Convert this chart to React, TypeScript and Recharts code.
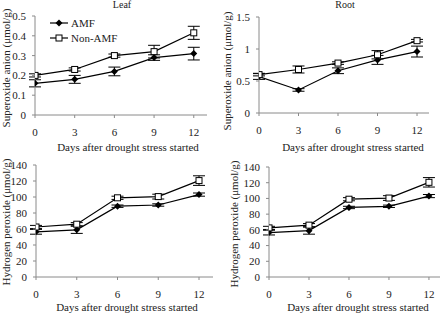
import React from 'react';
import { LineChart, Line, XAxis, YAxis, ErrorBar, Legend } from 'recharts';

const days = [0, 3, 6, 9, 12];
const dayTicks = [0, 3, 6, 9, 12];

const leafSuperoxideAMF = [0.16, 0.18, 0.22, 0.29, 0.31];
const leafSuperoxideAMFErr = [0.018, 0.02, 0.022, 0.014, 0.032];
const leafSuperoxideNon = [0.2, 0.23, 0.3, 0.32, 0.415];
const leafSuperoxideNonErr = [0.008, 0.008, 0.008, 0.032, 0.033];

const rootSuperoxideAMF = [0.57, 0.36, 0.66, 0.83, 0.96];
const rootSuperoxideAMFErr = [0.045, 0.02, 0.045, 0.07, 0.085];
const rootSuperoxideNon = [0.6, 0.68, 0.78, 0.91, 1.13];
const rootSuperoxideNonErr = [0.02, 0.055, 0.02, 0.065, 0.02];

const leafH2O2AMF = [56.5, 59, 88.5, 90, 103];
const leafH2O2AMFErr = [3, 4.5, 1.5, 1.5, 2];
const leafH2O2Non = [62.5, 66, 99, 100.5, 120.5];
const leafH2O2NonErr = [2, 2, 2, 3, 6];

const rootH2O2AMF = [56.5, 59, 88.5, 90, 103];
const rootH2O2AMFErr = [3, 4.5, 1.5, 1.5, 2];
const rootH2O2Non = [62.5, 66, 99, 100.5, 120.5];
const rootH2O2NonErr = [2, 2, 2, 3, 6];

const superoxideLeafTicks = [0, 0.1, 0.2, 0.3, 0.4, 0.5];
const superoxideRootTicks = [0, 0.5, 1, 1.5];
const h2o2Ticks = [0, 20, 40, 60, 80, 100, 120, 140];

const seriesNames = ['AMF', 'Non-AMF'];
const xTitle = 'Days after drought stress started';
const panelTitles = ['Leaf', 'Root'];

const FONT = '"Liberation Serif", "Times New Roman", serif';
const TEXT = '#222';
const AXIS = '#8a8a8a';

function build(a: number[], ae: number[], n: number[], ne: number[]) {
  return days.map((d, i) => ({ day: d, amf: a[i], amfErr: ae[i], non: n[i], nonErr: ne[i] }));
}

const Diamond = (props: any) => {
  const { cx, cy } = props;
  if (cx == null || cy == null) return null;
  return (
    <polygon
      points={`${cx},${cy - 3.5} ${cx + 3.5},${cy} ${cx},${cy + 3.5} ${cx - 3.5},${cy}`}
      fill="#000"
    />
  );
};

const Square = (props: any) => {
  const { cx, cy } = props;
  if (cx == null || cy == null) return null;
  return <rect x={cx - 3} y={cy - 3} width={6} height={6} fill="#fff" stroke="#000" strokeWidth={1} />;
};

const LegendContent = () => (
  <svg width={90} height={32} style={{ display: 'block', overflow: 'visible' }}>
    <line x1={2} x2={20} y1={8} y2={8} stroke="#000" strokeWidth={1.2} />
    <polygon points="11,4.5 14.5,8 11,11.5 7.5,8" fill="#000" />
    <text x={23} y={8} dominantBaseline="central" fontFamily={FONT} fontSize={11} fill={TEXT}>
      {seriesNames[0]}
    </text>
    <line x1={2} x2={20} y1={23} y2={23} stroke="#000" strokeWidth={1.2} />
    <rect x={8} y={20} width={6} height={6} fill="#fff" stroke="#000" strokeWidth={1} />
    <text x={23} y={23} dominantBaseline="central" fontFamily={FONT} fontSize={11} fill={TEXT}>
      {seriesNames[1]}
    </text>
  </svg>
);

type PanelProps = {
  left: number;
  top: number;
  width: number;
  height: number;
  plotLeft: number;
  plotRight: number;
  plotTop: number;
  plotBottom: number;
  xMax: number;
  yMax: number;
  yTicks: number[];
  data: any[];
  yLabel: string;
  yLabelX: number;
  yLabelY: number;
  xTitleX: number;
  xTitleY: number;
  legend?: boolean;
};

function Panel(p: PanelProps) {
  const tickStyle = { fontFamily: FONT, fontSize: 11, fill: TEXT };
  return (
    <div style={{ position: 'absolute', left: p.left, top: p.top, width: p.width, height: p.height }}>
      <LineChart
        width={p.width}
        height={p.height}
        data={p.data}
        margin={{
          left: p.plotLeft - 1,
          right: p.width - p.plotRight,
          top: p.plotTop,
          bottom: p.height - p.plotBottom - 1,
        }}
        style={{ overflow: 'visible' }}
      >
        <XAxis
          dataKey="day"
          type="number"
          domain={[0, p.xMax]}
          ticks={dayTicks}
          interval={0}
          height={1}
          tick={tickStyle}
          tickSize={3}
          tickMargin={10}
          stroke={AXIS}
          tickLine={{ stroke: AXIS }}
          allowDataOverflow
          label={{
            content: () => (
              <text x={p.xTitleX} y={p.xTitleY} textAnchor="middle" dominantBaseline="central" fontFamily={FONT} fontSize={11} fill={TEXT}>
                {xTitle}
              </text>
            ),
          }}
        />
        <YAxis
          type="number"
          domain={[0, p.yMax]}
          ticks={p.yTicks}
          interval={0}
          width={1}
          tick={tickStyle}
          tickSize={3}
          tickMargin={6}
          stroke={AXIS}
          tickLine={{ stroke: AXIS }}
          label={{
            content: () => (
              <text
                x={p.yLabelX}
                y={p.yLabelY}
                transform={`rotate(-90 ${p.yLabelX} ${p.yLabelY})`}
                textAnchor="middle"
                dominantBaseline="central"
                fontFamily={FONT}
                fontSize={11}
                fill={TEXT}
              >
                {p.yLabel}
              </text>
            ),
          }}
        />
        {p.legend ? (
          <Legend
            layout="horizontal"
            align="center"
            verticalAlign="middle"
            content={LegendContent}
            wrapperStyle={{ position: 'absolute', left: 48, top: 15, width: 90, height: 32 }}
          />
        ) : null}
        <Line
          dataKey="amf"
          name={seriesNames[0]}
          stroke="#000"
          strokeWidth={1.2}
          dot={<Diamond />}
          isAnimationActive={false}
        >
          <ErrorBar dataKey="amfErr" width={6} stroke="#000" strokeWidth={1} direction="y" />
        </Line>
        <Line
          dataKey="non"
          name={seriesNames[1]}
          stroke="#000"
          strokeWidth={1.2}
          dot={<Square />}
          isAnimationActive={false}
        >
          <ErrorBar dataKey="nonErr" width={6} stroke="#000" strokeWidth={1} direction="y" />
        </Line>
      </LineChart>
    </div>
  );
}

export default function App() {
  return (
    <div style={{ position: 'absolute', left: 0, top: 0, width: 440, height: 313, overflow: 'hidden', background: '#fff' }}>
      <svg width={440} height={20} style={{ position: 'absolute', left: 0, top: 0 }}>
        <text x={122} y={8} textAnchor="middle" fontFamily={FONT} fontSize={10} fill={TEXT}>{panelTitles[0]}</text>
        <text x={345} y={8} textAnchor="middle" fontFamily={FONT} fontSize={10} fill={TEXT}>{panelTitles[1]}</text>
      </svg>
      <Panel
        left={0} top={0} width={220} height={160}
        plotLeft={35} plotRight={207} plotTop={16} plotBottom={115}
        xMax={13} yMax={0.5} yTicks={superoxideLeafTicks}
        data={build(leafSuperoxideAMF, leafSuperoxideAMFErr, leafSuperoxideNon, leafSuperoxideNonErr)}
        yLabel="Superoxide anion (μmol/g)" yLabelX={6} yLabelY={68}
        xTitleX={128} xTitleY={147}
        legend
      />
      <Panel
        left={220} top={0} width={220} height={160}
        plotLeft={39} plotRight={209} plotTop={17} plotBottom={113}
        xMax={12.91} yMax={1.5} yTicks={superoxideRootTicks}
        data={build(rootSuperoxideAMF, rootSuperoxideAMFErr, rootSuperoxideNon, rootSuperoxideNonErr)}
        yLabel="Superoxide anion (μmol/g)" yLabelX={7} yLabelY={71}
        xTitleX={133} xTitleY={147}
      />
      <Panel
        left={0} top={150} width={220} height={163}
        plotLeft={36} plotRight={213} plotTop={15} plotBottom={127}
        xMax={13.03} yMax={140} yTicks={h2o2Ticks}
        data={build(leafH2O2AMF, leafH2O2AMFErr, leafH2O2Non, leafH2O2NonErr)}
        yLabel="Hydrogen peroxide (μmol/g)" yLabelX={6} yLabelY={72}
        xTitleX={127} xTitleY={157}
      />
      <Panel
        left={220} top={150} width={220} height={163}
        plotLeft={49} plotRight={220} plotTop={17} plotBottom={127}
        xMax={12.83} yMax={140} yTicks={h2o2Ticks}
        data={build(rootH2O2AMF, rootH2O2AMFErr, rootH2O2Non, rootH2O2NonErr)}
        yLabel="Hydrogen peroxide (μmol/g)" yLabelX={14} yLabelY={74}
        xTitleX={138} xTitleY={157}
      />
    </div>
  );
}
